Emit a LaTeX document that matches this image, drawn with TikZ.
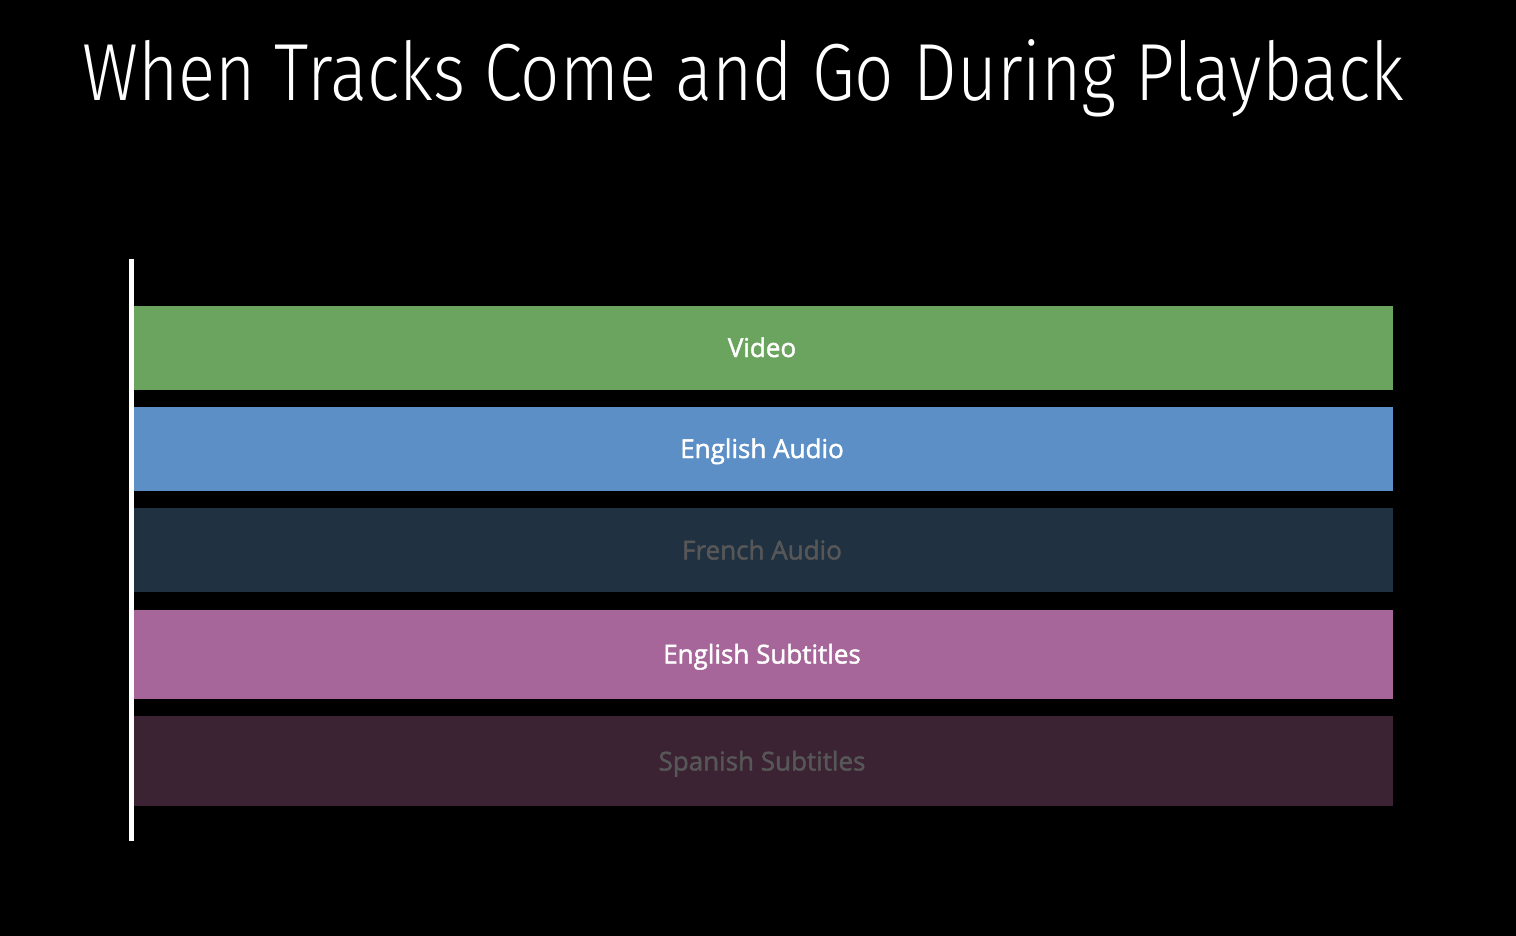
\documentclass[tikz,border=0pt]{standalone}
\usepackage{fontspec}
\setmainfont{Open Sans}
\newfontfamily\titlefont{Fira Sans Light}[FakeStretch=0.852]
\newfontfamily\labelfont{Open Sans}[FakeBold=1.6]
\definecolor{videogreen}{HTML}{6BA45E}
\definecolor{audioblue}{HTML}{5C8FC6}
\definecolor{audionavy}{HTML}{203142}
\definecolor{subpink}{HTML}{A66699}
\definecolor{subplum}{HTML}{3B2334}
\definecolor{dimtext}{HTML}{575757}
\begin{document}
\begin{tikzpicture}[x=1pt,y=-1pt,
  trackbar/.style={fill=#1,draw=none},
  tracklabel/.style={anchor=base,font=\labelfont\fontsize{26}{30}\selectfont,text=white,inner sep=0pt},
  dimlabel/.style={tracklabel,text=dimtext}]
  % page background
  \fill[black] (0,0) rectangle (1516,936);
  \useasboundingbox (0,0) rectangle (1516,936);

  % title
  \node[anchor=base west,inner sep=0pt,text=white,font=\titlefont\fontsize{81}{92}\selectfont]
    (title) at (82,101) {When Tracks Come and Go During Playback};

  % time axis
  \coordinate (axistop) at (131,259);
  \coordinate (axisbot) at (131,841);
  \draw[white,line width=5pt] (axistop) -- (axisbot);

  % track bars
  \fill[trackbar=videogreen] (133.5,306) rectangle (1392.5,389.5);
  \fill[trackbar=audioblue]  (133.5,407) rectangle (1392.5,490.5);
  \fill[trackbar=audionavy]  (133.5,508) rectangle (1392.5,591.5);
  \fill[trackbar=subpink]    (133.5,609.5) rectangle (1392.5,698.5);
  \fill[trackbar=subplum]    (133.5,716) rectangle (1392.5,805.5);

  % track labels
  \node[tracklabel] (video) at (762,357) {Video};
  \node[tracklabel] (engaudio) at (762,458) {English Audio};
  \node[dimlabel]   (fraudio) at (762,559.5) {French Audio};
  \node[tracklabel] (engsub) at (762,663.5) {English Subtitles};
  \node[dimlabel]   (spsub) at (762,770.5) {Spanish Subtitles};
\end{tikzpicture}
\end{document}
